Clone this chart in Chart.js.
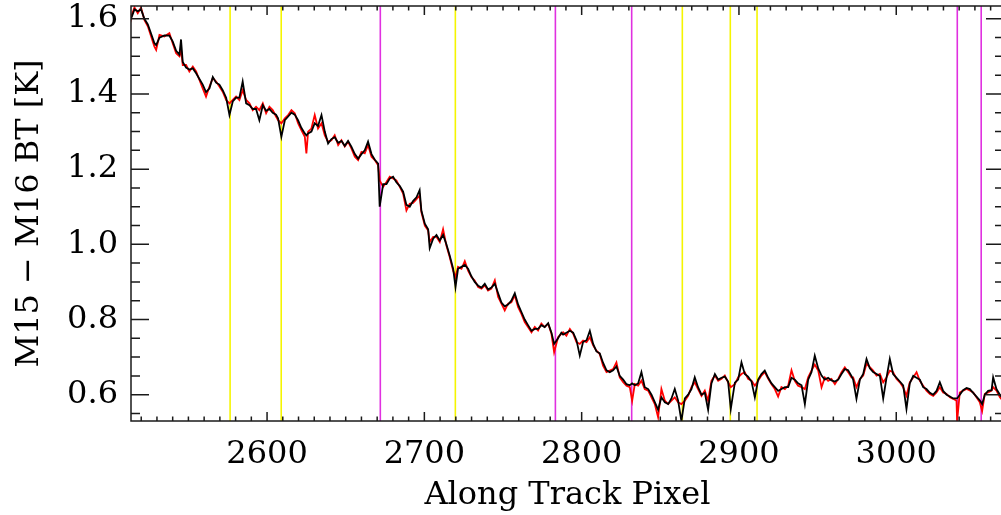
<!DOCTYPE html>
<html>
<head>
<meta charset="utf-8">
<title>M15 - M16 BT along track</title>
<script src="https://cdn.jsdelivr.net/npm/chart.js@4.4.1/dist/chart.umd.min.js"></script>
<style>
  html, body { margin: 0; padding: 0; background: #fff; overflow: hidden; }
  canvas { display: block; }
</style>
</head>
<body>
<canvas id="btChart" width="1010" height="515"></canvas>
<script>
/* =============================================
   DATA
   ============================================= */

// along-track pixel positions of the samples
const trackPixels = [
    2513.0, 2514.0, 2515.7, 2517.8, 2519.9, 2522.0, 2524.2, 2526.3, 2528.4, 2529.5,
    2531.6, 2534.7, 2537.9, 2540.0, 2542.2, 2544.3, 2545.3, 2546.4, 2548.5, 2550.6,
    2552.8, 2554.9, 2557.0, 2559.1, 2561.2, 2563.4, 2565.5, 2567.6, 2569.7, 2571.8,
    2574.0, 2576.1, 2578.2, 2580.3, 2582.4, 2584.5, 2586.7, 2588.8, 2590.9, 2593.0,
    2595.1, 2597.3, 2599.4, 2601.5, 2603.6, 2605.7, 2607.0, 2609.1, 2611.3, 2613.4,
    2615.5, 2617.6, 2619.7, 2621.8, 2624.0, 2625.0, 2626.1, 2628.2, 2630.3, 2632.4,
    2634.6, 2636.7, 2638.8, 2640.9, 2643.0, 2645.2, 2647.3, 2649.4, 2651.5, 2653.6,
    2655.8, 2657.9, 2660.0, 2662.1, 2664.2, 2666.4, 2668.5, 2670.6, 2671.6, 2673.8,
    2675.9, 2678.0, 2680.1, 2682.2, 2684.4, 2686.5, 2688.6, 2690.7, 2692.8, 2695.0,
    2697.0, 2698.1, 2700.3, 2702.4, 2703.4, 2705.6, 2707.7, 2709.8, 2711.9, 2714.0,
    2716.1, 2718.3, 2719.8, 2721.4, 2723.6, 2725.7, 2727.8, 2729.9, 2732.0, 2734.2,
    2736.3, 2738.4, 2740.5, 2742.6, 2744.8, 2746.9, 2749.0, 2751.1, 2753.2, 2755.3,
    2757.5, 2759.6, 2761.7, 2763.8, 2765.9, 2768.1, 2770.2, 2772.3, 2774.4, 2776.5,
    2778.7, 2780.8, 2782.5, 2785.0, 2787.1, 2788.2, 2790.3, 2792.5, 2794.6, 2796.7,
    2798.8, 2800.9, 2803.1, 2805.2, 2807.3, 2809.4, 2811.5, 2813.6, 2815.8, 2817.9,
    2820.0, 2822.1, 2824.2, 2826.4, 2828.5, 2830.6, 2832.1, 2833.8, 2835.9, 2838.0,
    2840.1, 2842.3, 2844.4, 2846.5, 2848.6, 2850.7, 2852.9, 2855.0, 2857.1, 2859.2,
    2861.3, 2863.4, 2865.6, 2867.7, 2869.8, 2871.9, 2874.0, 2876.2, 2878.3, 2880.4,
    2882.5, 2884.7, 2886.8, 2888.9, 2891.0, 2893.1, 2894.8, 2897.4, 2899.5, 2901.6,
    2903.7, 2905.8, 2908.0, 2910.1, 2912.2, 2914.3, 2916.4, 2918.6, 2920.7, 2922.8,
    2924.9, 2927.0, 2929.2, 2931.3, 2933.4, 2935.5, 2937.6, 2939.8, 2941.9, 2944.0,
    2946.1, 2948.2, 2950.4, 2952.5, 2954.6, 2956.7, 2958.8, 2961.0, 2963.1, 2965.2,
    2967.3, 2969.4, 2971.5, 2972.6, 2974.7, 2976.9, 2979.0, 2981.1, 2983.2, 2985.3,
    2987.5, 2989.6, 2991.7, 2993.8, 2995.9, 2998.0, 3000.2, 3002.3, 3004.4, 3006.5,
    3008.6, 3010.8, 3012.9, 3015.0, 3017.1, 3019.2, 3021.4, 3023.5, 3025.6, 3027.7,
    3029.8, 3032.0, 3034.1, 3036.2, 3038.3, 3038.7, 3040.4, 3042.5, 3044.7, 3046.8,
    3048.9, 3051.0, 3053.1, 3054.6, 3056.3, 3058.4, 3060.6, 3061.6, 3063.7, 3065.9,
    3068.5
];

// black trace (M15 - M16 BT, K)
const btBlack = [
    1.600, 1.605, 1.625, 1.620, 1.625, 1.600, 1.585, 1.560, 1.535, 1.530,
    1.550, 1.556, 1.555, 1.540, 1.515, 1.505, 1.545, 1.485, 1.470, 1.465,
    1.468, 1.455, 1.440, 1.425, 1.405, 1.415, 1.445, 1.430, 1.425, 1.410,
    1.390, 1.344, 1.380, 1.390, 1.390, 1.433, 1.375, 1.370, 1.360, 1.360,
    1.330, 1.370, 1.355, 1.360, 1.350, 1.345, 1.335, 1.286, 1.330, 1.340,
    1.350, 1.345, 1.330, 1.310, 1.295, 1.290, 1.295, 1.300, 1.322, 1.315,
    1.344, 1.300, 1.268, 1.280, 1.285, 1.270, 1.275, 1.262, 1.275, 1.260,
    1.240, 1.228, 1.240, 1.250, 1.273, 1.240, 1.225, 1.215, 1.100, 1.160,
    1.160, 1.175, 1.180, 1.165, 1.155, 1.140, 1.105, 1.100, 1.115, 1.125,
    1.144, 1.090, 1.055, 1.040, 0.990, 1.015, 1.025, 1.010, 1.025, 1.000,
    0.970, 0.935, 0.886, 0.935, 0.940, 0.945, 0.935, 0.915, 0.900, 0.890,
    0.885, 0.895, 0.880, 0.885, 0.895, 0.870, 0.845, 0.835, 0.840, 0.850,
    0.870, 0.840, 0.820, 0.800, 0.785, 0.770, 0.775, 0.775, 0.785, 0.780,
    0.790, 0.765, 0.735, 0.750, 0.765, 0.760, 0.765, 0.770, 0.765, 0.745,
    0.704, 0.740, 0.745, 0.770, 0.735, 0.715, 0.710, 0.685, 0.665, 0.660,
    0.665, 0.675, 0.650, 0.640, 0.628, 0.625, 0.630, 0.625, 0.630, 0.660,
    0.620, 0.615, 0.600, 0.580, 0.560, 0.593, 0.580, 0.575, 0.590, 0.615,
    0.585, 0.530, 0.590, 0.600, 0.615, 0.646, 0.620, 0.600, 0.605, 0.560,
    0.630, 0.655, 0.640, 0.645, 0.648, 0.635, 0.562, 0.632, 0.640, 0.686,
    0.655, 0.648, 0.635, 0.593, 0.640, 0.655, 0.664, 0.645, 0.630, 0.620,
    0.610, 0.615, 0.620, 0.620, 0.645, 0.640, 0.630, 0.625, 0.575, 0.640,
    0.660, 0.704, 0.670, 0.651, 0.640, 0.645, 0.638, 0.635, 0.640, 0.655,
    0.668, 0.665, 0.650, 0.640, 0.589, 0.640, 0.655, 0.695, 0.670, 0.660,
    0.655, 0.650, 0.590, 0.645, 0.695, 0.655, 0.645, 0.635, 0.625, 0.562,
    0.630, 0.650, 0.645, 0.640, 0.620, 0.615, 0.605, 0.600, 0.610, 0.633,
    0.610, 0.600, 0.595, 0.590, 0.590, 0.590, 0.600, 0.612, 0.618, 0.615,
    0.605, 0.595, 0.585, 0.575, 0.600, 0.610, 0.612, 0.646, 0.615, 0.600,
    0.585
];

// red trace (M15 - M16 BT, K)
const btRed = [
    1.590, 1.610, 1.630, 1.615, 1.630, 1.597, 1.580, 1.553, 1.526, 1.517,
    1.557, 1.553, 1.562, 1.535, 1.508, 1.500, 1.520, 1.477, 1.477, 1.460,
    1.473, 1.460, 1.437, 1.415, 1.393, 1.420, 1.442, 1.433, 1.420, 1.406,
    1.384, 1.375, 1.384, 1.393, 1.384, 1.410, 1.384, 1.375, 1.357, 1.366,
    1.357, 1.375, 1.349, 1.366, 1.357, 1.340, 1.330, 1.322, 1.335, 1.344,
    1.357, 1.349, 1.322, 1.304, 1.286, 1.242, 1.300, 1.308, 1.344, 1.308,
    1.322, 1.290, 1.273, 1.277, 1.290, 1.264, 1.277, 1.260, 1.273, 1.255,
    1.233, 1.224, 1.246, 1.242, 1.264, 1.233, 1.224, 1.210, 1.170, 1.153,
    1.166, 1.180, 1.175, 1.170, 1.153, 1.135, 1.090, 1.108, 1.110, 1.120,
    1.130, 1.086, 1.050, 1.037, 1.006, 1.020, 1.020, 1.006, 1.040, 0.997,
    0.966, 0.930, 0.913, 0.940, 0.935, 0.955, 0.930, 0.913, 0.904, 0.886,
    0.882, 0.891, 0.877, 0.882, 0.904, 0.860, 0.842, 0.824, 0.842, 0.846,
    0.864, 0.833, 0.815, 0.793, 0.780, 0.766, 0.780, 0.771, 0.789, 0.780,
    0.789, 0.762, 0.713, 0.753, 0.762, 0.766, 0.757, 0.775, 0.762, 0.740,
    0.735, 0.744, 0.740, 0.753, 0.731, 0.717, 0.708, 0.677, 0.660, 0.664,
    0.668, 0.686, 0.646, 0.633, 0.624, 0.620, 0.584, 0.628, 0.624, 0.637,
    0.615, 0.611, 0.593, 0.575, 0.540, 0.615, 0.584, 0.575, 0.584, 0.593,
    0.580, 0.575, 0.584, 0.597, 0.620, 0.633, 0.615, 0.597, 0.611, 0.584,
    0.637, 0.651, 0.637, 0.642, 0.651, 0.633, 0.620, 0.628, 0.646, 0.655,
    0.660, 0.642, 0.637, 0.624, 0.637, 0.651, 0.660, 0.642, 0.628, 0.615,
    0.595, 0.620, 0.615, 0.624, 0.665, 0.637, 0.624, 0.620, 0.615, 0.646,
    0.664, 0.680, 0.664, 0.620, 0.646, 0.637, 0.642, 0.628, 0.642, 0.660,
    0.673, 0.660, 0.646, 0.646, 0.620, 0.642, 0.651, 0.682, 0.673, 0.664,
    0.651, 0.655, 0.633, 0.646, 0.664, 0.660, 0.642, 0.633, 0.620, 0.597,
    0.633, 0.646, 0.660, 0.637, 0.624, 0.611, 0.602, 0.597, 0.606, 0.620,
    0.606, 0.602, 0.593, 0.589, 0.584, 0.530, 0.606, 0.611, 0.615, 0.611,
    0.606, 0.593, 0.580, 0.557, 0.602, 0.606, 0.611, 0.620, 0.611, 0.593,
    0.580
];

// marker positions (along-track pixel)
const yellowLines = [2576.5, 2609, 2719.7, 2864, 2894.5, 2911.5];
const magentaLines = [2672, 2783.3, 2831.8, 3038.8, 3054];

// axis limits
const xRange = [2513.5, 3068.5];
const yRange = [0.530, 1.634];

/* =============================================
   CHART
   ============================================= */

const FONT = { family: "'DejaVu Serif', serif", size: 32, weight: 'normal' };
const AXIS_COLOR = '#1a1a1a';

const toPoints = (xs, ys) => xs.map((x, i) => ({ x, y: ys[i] }));

// vertical marker lines, under the data
const markerPlugin = {
    id: 'markers',
    beforeDatasetsDraw(chart) {
        const { ctx, chartArea, scales } = chart;
        const draw = (values, color) => {
            ctx.strokeStyle = color;
            ctx.lineWidth = 1.6;
            values.forEach(v => {
                const px = scales.x.getPixelForValue(v);
                ctx.beginPath();
                ctx.moveTo(px, chartArea.top);
                ctx.lineTo(px, chartArea.bottom);
                ctx.stroke();
            });
        };
        ctx.save();
        draw(yellowLines, '#f5f500');
        draw(magentaLines, '#e030e0');
        ctx.restore();
    }
};

// box frame with inward ticks on all four sides
const framePlugin = {
    id: 'frame',
    afterDatasetsDraw(chart) {
        const { ctx, chartArea: a, scales } = chart;
        ctx.save();
        ctx.strokeStyle = AXIS_COLOR;
        ctx.lineWidth = 1.5;
        ctx.strokeRect(a.left, a.top, a.right - a.left, a.bottom - a.top);

        ctx.beginPath();
        for (let v = 2520; v <= xRange[1]; v += 10) {
            const px = scales.x.getPixelForValue(v);
            const len = v % 100 === 0 ? 9 : 4.5;
            ctx.moveTo(px, a.bottom); ctx.lineTo(px, a.bottom - len);
            ctx.moveTo(px, a.top); ctx.lineTo(px, a.top + len);
        }
        for (let k = 11; k * 0.05 <= yRange[1]; k++) {
            const v = k * 0.05;
            const py = scales.y.getPixelForValue(v);
            const len = k % 4 === 0 ? 18 : 9;
            ctx.moveTo(a.left, py); ctx.lineTo(a.left + len, py);
            ctx.moveTo(a.right, py); ctx.lineTo(a.right - len, py);
        }
        ctx.stroke();
        ctx.restore();
    }
};

new Chart(document.getElementById('btChart'), {
    type: 'line',
    data: {
        datasets: [
            {
                label: 'black',
                data: toPoints(trackPixels, btBlack),
                borderColor: '#000000',
                borderWidth: 1.8,
                pointRadius: 0,
                tension: 0
            },
            {
                label: 'red',
                data: toPoints(trackPixels, btRed),
                borderColor: '#ff0000',
                borderWidth: 1.8,
                pointRadius: 0,
                tension: 0
            }
        ]
    },
    options: {
        responsive: false,
        animation: false,
        parsing: false,
        layout: { padding: { top: 6, right: 6, left: 0, bottom: 0 } },
        plugins: {
            legend: { display: false },
            tooltip: { enabled: false }
        },
        scales: {
            x: {
                type: 'linear',
                min: xRange[0],
                max: xRange[1],
                grid: { display: false, drawTicks: false },
                border: { display: false },
                ticks: {
                    stepSize: 100,
                    includeBounds: false,
                    autoSkip: false,
                    maxRotation: 0,
                    color: '#000',
                    font: FONT,
                    padding: 14,
                    callback: v => (Math.abs(v % 100) < 1e-6 ? String(v) : '')
                },
                title: {
                    display: true,
                    text: 'Along Track Pixel',
                    color: '#000',
                    font: FONT,
                    padding: { top: 0, bottom: 0 }
                },
                afterFit: scale => {
                    scale.height = 94;
                    scale.paddingLeft = 0;
                    scale.paddingRight = 0;
                }
            },
            y: {
                type: 'linear',
                min: yRange[0],
                max: yRange[1],
                grid: { display: false, drawTicks: false },
                border: { display: false },
                ticks: {
                    stepSize: 0.2,
                    includeBounds: false,
                    autoSkip: false,
                    color: '#000',
                    font: FONT,
                    padding: 13,
                    callback: v => v.toFixed(1)
                },
                title: {
                    display: true,
                    text: 'M15 \u2212 M16 BT [K]',
                    color: '#000',
                    font: FONT,
                    padding: { top: 10, bottom: 0 }
                },
                afterFit: scale => {
                    scale.width = 131;
                    scale.paddingTop = 0;
                    scale.paddingBottom = 0;
                }
            }
        }
    },
    plugins: [markerPlugin, framePlugin]
});
</script>
</body>
</html>
